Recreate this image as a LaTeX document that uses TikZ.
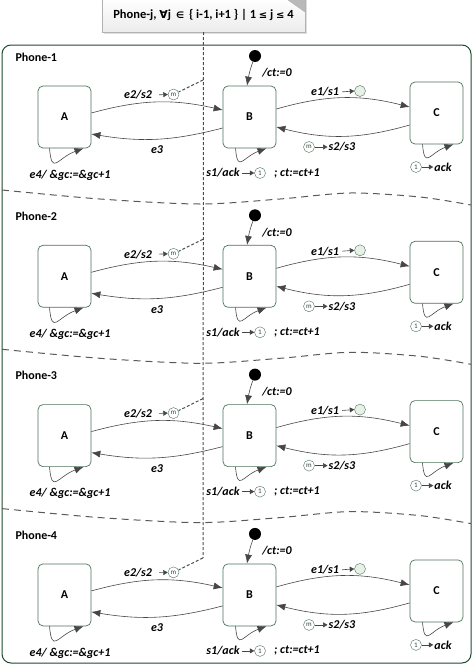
\documentclass[tikz,border=0pt]{standalone}
\usepackage{fontspec}
\setmainfont{Carlito}
\newfontfamily\symsfont{DejaVu Sans}
\usetikzlibrary{arrows.meta,shadows}

\definecolor{framegreen}{RGB}{30,75,45}
\definecolor{stategreen}{RGB}{75,115,90}
\definecolor{arrowgray}{RGB}{70,70,70}
\definecolor{okfill}{RGB}{232,240,232}

\begin{document}
\begin{tikzpicture}[x=1pt,y=1pt,
  state/.style={draw=stategreen,fill=white,rounded corners=5pt,line width=0.7pt,
    minimum width=53pt,minimum height=62pt,font=\bfseries\fontsize{12}{14}\selectfont},
  lbl/.style={font=\bfseries\itshape\fontsize{12}{14}\selectfont,inner sep=1pt},
  msg/.style={circle,draw=stategreen,fill=white,inner sep=0pt,minimum size=11pt,
    font=\fontsize{7}{8}\selectfont,text=black!75},
  tr/.style={draw=arrowgray,line width=0.6pt,-{Latex[length=9pt,width=7pt]}},
  tip/.style={draw=arrowgray,line width=0.6pt,-{Triangle[length=4.5pt,width=5pt]}},
  link/.style={draw=black!70,line width=1pt,dash pattern=on 3pt off 2pt},
  divider/.style={draw=black!65,line width=1pt,dash pattern=on 7pt off 5pt}]
\useasboundingbox (0,0) rectangle (473,-664);

% outer frame
\draw[framegreen,line width=1pt,rounded corners=9pt] (2,-45) rectangle (471,-663);

% header note
\node[draw=gray!60,top color=white,bottom color=gray!15,
  drop shadow={shadow xshift=1.5pt,shadow yshift=-2pt,opacity=0.25},
  minimum width=203pt,minimum height=34pt,
  font=\bfseries\fontsize{12.5}{14}\selectfont] (hdr) at (203.5,-15)
  {Phone-j, {\symsfont\fontsize{11}{14}\selectfont ∀}j\, {\symsfont\fontsize{9}{14}\selectfont ∈}\, \{ i-1, i+1 \} | 1 {\symsfont\fontsize{10}{14}\selectfont ≤} j {\symsfont\fontsize{10}{14}\selectfont ≤} 4};
\fill[gray!55] (288,0) -- (305,0) -- (305,-12) -- cycle;
\draw[gray!60] (288,0) -- (305,-12);

\foreach \k in {1,...,4}{
\pgfmathsetmacro{\dy}{-(\k-1)*159.3}
\begin{scope}[yshift=\dy pt]
% region
\ifnum\k<4
\draw[divider] plot[smooth] coordinates {(2,-190) (100,-199) (200,-204) (280,-199) (350,-193) (420,-197) (471,-205)};
\fi
\node[anchor=west,font=\bfseries\fontsize{12}{14}\selectfont] (ph\k) at (12,-57) {Phone-\k};

% states
\node[state] (A\k) at (64.5,-117) {A};
\node[state] (B\k) at (249.5,-117) {B};
\node[state] (C\k) at (436.5,-113) {C};
\node[circle,fill=black,minimum size=12pt,inner sep=0pt] (ini\k) at (255,-56) {};
\draw[tr] (ini\k) to[out=-110,in=80] ([xshift=-2.5pt]B\k.north);
\node[lbl] (ct\k) at (277,-73) {/ct:=0};

% A <-> B
\draw[tr] ([yshift=4pt]A\k.east) to[bend left=14] ([yshift=7pt]B\k.west);
\draw[tr] ([yshift=-11pt]B\k.west) to[bend left=12] ([yshift=-17pt]A\k.east);
\node[lbl] (ab\k) at (138,-95) {e2/s2};
\node[msg] (m\k) at (173.5,-94.5) {m};
\draw[tip,shorten <=6pt] (ab\k.east) -- (m\k.west);
\coordinate (j\k) at (203,-80);
\draw[link] (j\k) -- (m\k);
\node[lbl] (ba\k) at (157,-150) {e3};

% B <-> C
\draw[tr] ([yshift=8pt]B\k.east) to[bend left=15] ([yshift=6pt]C\k.west);
\draw[tr] ([yshift=-12pt]C\k.west) to[bend left=15] ([yshift=-10pt]B\k.east);
\node[lbl] (bc\k) at (325,-92) {e1/s1};
\node[msg,fill=okfill] (ok\k) at (360,-91) {};
\draw[tip,shorten <=2pt] (bc\k.east) -- (ok\k.west);
\node[msg] (mc\k) at (309,-147) {m};
\node[lbl] (cb\k) at (342,-147) {s2/s3};
\draw[tip] (mc\k.east) -- (cb\k.west);

% self loops
\draw[tr] ([xshift=-15pt]A\k.south) to[out=-85,in=200,looseness=2.1] ([xshift=19pt]A\k.south);
\node[lbl] (aa\k) at (70,-175) {e4/ \&gc:=\&gc+1};
\draw[tr] ([xshift=-14pt]B\k.south) to[out=-85,in=200,looseness=2.1] ([xshift=17pt]B\k.south);
\node[lbl] (bb\k) at (223,-173) {s1/ack};
\node[msg] (one\k) at (260,-173) {1};
\node[lbl] (cc\k) at (297,-173) {; ct:=ct+1};
\draw[tip,shorten <=1pt] (bb\k.east) -- (one\k.west);
\draw[tr] ([xshift=-14pt]C\k.south) to[out=-85,in=200,looseness=2.1] ([xshift=17pt]C\k.south);
\node[msg] (onec\k) at (416,-167) {1};
\node[lbl] (ack\k) at (443,-167) {ack};
\draw[tip] (onec\k.east) -- (ack\k.west);
\end{scope}
}

% shared link
\draw[link] (hdr.south) -- (j4);
\end{tikzpicture}
\end{document}
